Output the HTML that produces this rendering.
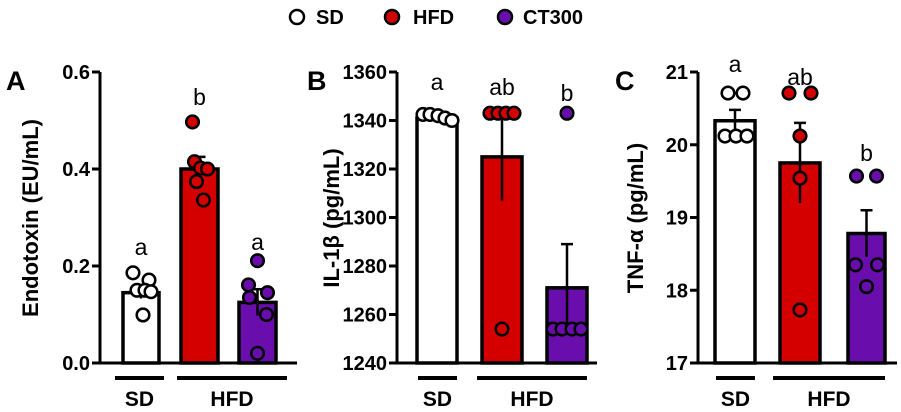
<!DOCTYPE html>
<html><head><meta charset="utf-8"><style>
body{margin:0;background:#fff;}
svg{display:block;font-family:"Liberation Sans",Arial,sans-serif;}
</style></head><body>
<svg id="chart" width="901" height="412" viewBox="0 0 901 412">
<g font-weight="bold" font-size="20">
 <g><circle cx="297" cy="17" r="7" fill="#fff" stroke="#000" stroke-width="2.5"/><text x="316" y="24">SD</text></g>
 <g><circle cx="392" cy="17" r="7" fill="#d40000" stroke="#000" stroke-width="2.5"/><text x="413" y="24">HFD</text></g>
 <g><circle cx="505" cy="17" r="7" fill="#6a0dad" stroke="#000" stroke-width="2.5"/><text x="523" y="24">CT300</text></g>
</g>
</svg>
<script>
const panelLetters=["A","B","C"];
const yTitles=["Endotoxin (EU/mL)","IL-1\u03B2 (pg/mL)","TNF-\u03B1 (pg/mL)"];
const yMins=[0,1240,17];
const yMaxs=[0.6,1360,21];
const tickLabelsA=["0.0","0.2","0.4","0.6"];
const tickLabelsB=["1240","1260","1280","1300","1320","1340","1360"];
const tickLabelsC=["17","18","19","20","21"];
const groups=["SD","HFD","CT300"];
const meansA=[0.145,0.40,0.125];
const errA=[0.012,0.025,0.027];
const meansB=[1341,1325,1271];
const errB=[1,18,18];
const meansC=[20.33,19.75,18.78];
const errC=[0.15,0.55,0.32];
const sigA=["a","b","a"];
const sigB=["a","ab","b"];
const sigC=["a","ab","b"];
const ptsA_SD=[0.186,0.171,0.150,0.150,0.147,0.099];
const ptsA_HFD=[0.497,0.415,0.402,0.400,0.374,0.336];
const ptsA_CT=[0.211,0.161,0.145,0.135,0.100,0.020];
const ptsB_SD=[1342.5,1342.5,1342,1341,1340];
const ptsB_HFD=[1343,1343,1343,1343,1254];
const ptsB_CT=[1343,1254,1254,1254,1254];
const ptsC_SD=[20.71,20.71,20.12,20.12,20.12];
const ptsC_HFD=[20.71,20.71,20.12,19.54,17.73];
const ptsC_CT=[19.57,19.57,18.35,18.35,18.05];
const colors=["#ffffff","#d40000","#6a0dad"];
const panels=[
 {ax:100,xEnd:297,bars:[[123,159],[181,218],[239,276]],means:meansA,err:errA,sig:sigA,ticks:tickLabelsA,pts:[ptsA_SD,ptsA_HFD,ptsA_CT],offs:[[-8,8,-4,4,10,2],[-7,-5,1,8,-3,4],[0,-9,10,-8,9,0]],letterX:6,titleX:38,sd:[115,164],hfd:[177,287],sigY:[247,97,242]},
 {ax:397,xEnd:597,bars:[[417,457],[482,522],[547,587]],means:meansB,err:errB,sig:sigB,ticks:tickLabelsB,pts:[ptsB_SD,ptsB_HFD,ptsB_CT],offs:[[-14,-7,1,8,15],[-12,-4,4,12,0],[0,-14,-5,5,14]],letterX:307,titleX:339,sd:[418,457],hfd:[477,587],sigY:[82,87,93]},
 {ax:698,xEnd:897,bars:[[715,755],[780,820],[848,885]],means:meansC,err:errC,sig:sigC,ticks:tickLabelsC,pts:[ptsC_SD,ptsC_HFD,ptsC_CT],offs:[[-7,8,-10,1,12],[-11,11,0,0,0],[-10,10,-11,11,0]],letterX:615,titleX:643,sd:[716,755],hfd:[773,885],sigY:[64,77,153]}
];
const svg=document.getElementById('chart');
const NS="http://www.w3.org/2000/svg";
function mk(tag,attrs,parent){const e=document.createElementNS(NS,tag);for(const k in attrs)e.setAttribute(k,attrs[k]);(parent||svg).appendChild(e);return e;}
const yTop=72,yBot=363;
panels.forEach((p,i)=>{
 const g=mk('g',{});
 
 
 const ys=v=>yBot-(v-yMins[i])/(yMaxs[i]-yMins[i])*(yBot-yTop);
 const lt=mk('text',{x:p.letterX,y:90,'font-size':27,'font-weight':'bold'},g);lt.textContent=panelLetters[i];
 
 
 const tt=mk('text',{transform:`translate(${p.titleX},218) rotate(-90)`,'text-anchor':'middle','font-size':22,'font-weight':'bold'},g);tt.textContent=yTitles[i];
 
 
 p.bars.forEach((b,j)=>{
  const yv=ys(p.means[j]);
  const r=mk('rect',{x:b[0],y:yv,width:b[1]-b[0],height:yBot-yv,fill:colors[j],stroke:'#000','stroke-width':3.5},g);
  
  
  const cx=(b[0]+b[1])/2;
  const ye=ys(p.means[j]+p.err[j]),yl=ys(p.means[j]-p.err[j]);
  const el=mk('path',{d:`M${cx},${yl}V${ye}M${cx-6},${ye}H${cx+6}`,stroke:'#000','stroke-width':2.5,fill:'none'},g);
  
  
 });
 p.pts.forEach((arr,j)=>{
  const cx=(p.bars[j][0]+p.bars[j][1])/2;
  arr.forEach((v,k)=>{
   const c=mk('circle',{cx:cx+p.offs[j][k],cy:ys(v),r:6.3,fill:colors[j],stroke:'#000','stroke-width':2.5},g);
   
   
  });
  const s=mk('text',{x:cx,y:p.sigY[j]+8,'text-anchor':'middle','font-size':23},g);s.textContent=p.sig[j];
  
  
 });
 const ay=mk('path',{d:`M${p.ax},${yTop}V${yBot}H${p.xEnd}`,stroke:'#000','stroke-width':3,fill:'none'},g);
 
 
 p.ticks.forEach((t,k)=>{
  const y=yTop+(yBot-yTop)*(1-k/(p.ticks.length-1));
  mk('line',{x1:p.ax-8,x2:p.ax,y1:y,y2:y,stroke:'#000','stroke-width':3},g);
  const tl=mk('text',{x:p.ax-10,y:y+7,'text-anchor':'end','font-size':20,'font-weight':'bold'},g);tl.textContent=t;
  
  
 });
 [[p.sd,'SD'],[p.hfd,'HFD']].forEach(([r,name])=>{
  const l=mk('line',{x1:r[0],x2:r[1],y1:378,y2:378,stroke:'#000','stroke-width':4},g);
  
  
  const tx=mk('text',{x:(r[0]+r[1])/2,y:406,'text-anchor':'middle','font-size':21,'font-weight':'bold'},g);tx.textContent=name;
  
  
 });
});
</script>
</body></html>
